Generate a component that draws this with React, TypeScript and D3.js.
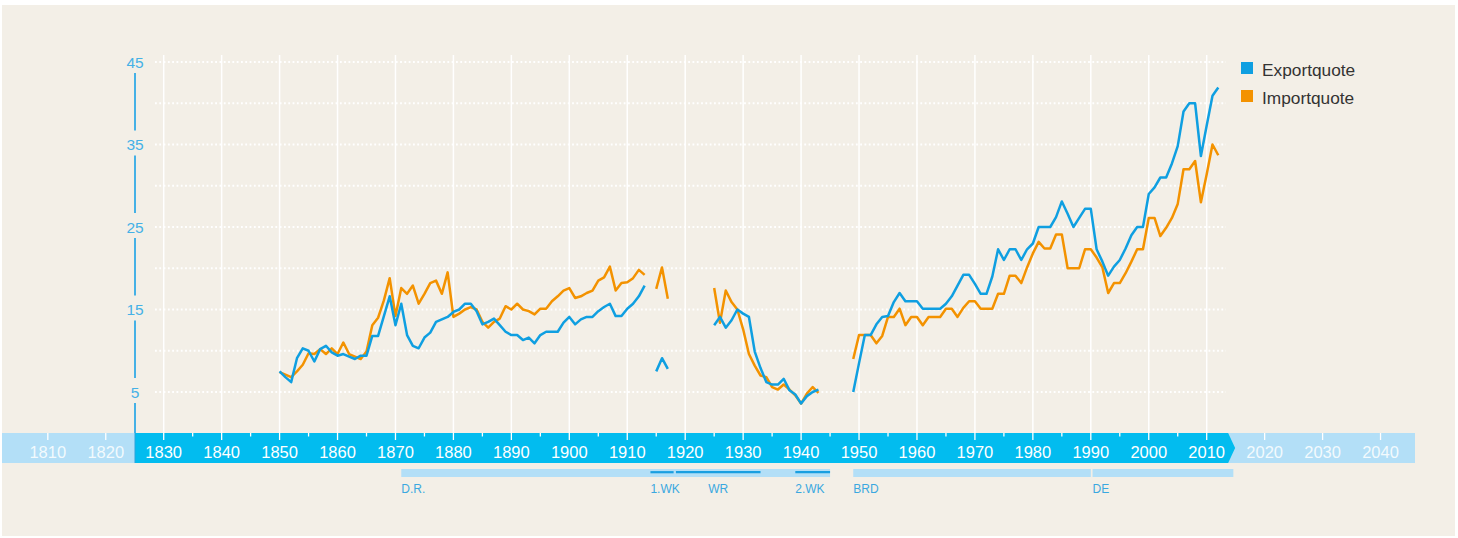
import React from 'react';
import * as d3 from 'd3';

// Exportquote / Importquote Deutschland, in % des BIP
const years = d3.range(1850, 2013);

const exportQuote = [
  7.5, 6.8, 6.2, 9.1, 10.3, 10.0, 8.7, 10.2, 10.6, 9.8, // 1850
  9.4, 9.6, 9.3, 9.0, 9.4, 9.4, 11.8, 11.8, 14.2, 16.6, // 1860
  13.1, 15.7, 11.9, 10.6, 10.3, 11.6, 12.2, 13.5, 13.8, 14.1, // 1870
  14.7, 15.0, 15.7, 15.7, 14.8, 13.2, 13.5, 13.9, 13.1, 12.3, // 1880
  11.9, 11.9, 11.3, 11.6, 10.9, 11.9, 12.3, 12.3, 12.3, 13.4, // 1890
  14.1, 13.2, 13.8, 14.1, 14.1, 14.8, 15.3, 15.7, 14.2, 14.2, // 1900
  15.1, 15.7, 16.6, 17.9, null, 7.5, 9.1, 7.8, null, null, // 1910
  null, null, null, null, null, 13.1, 14.1, 12.8, 13.7, 15.0, // 1920
  14.5, 14.1, 9.9, 7.9, 6.2, 5.9, 5.9, 6.6, 5.2, 4.7, // 1930
  3.6, 4.5, 5.0, 5.3, null, null, null, null, null, 5.0, // 1940
  8.5, 11.9, 11.9, 13.2, 14.1, 14.2, 15.9, 17.0, 16.0, 16.0, // 1950
  16.0, 15.1, 15.1, 15.1, 15.1, 15.7, 16.6, 17.9, 19.2, 19.2, // 1960
  18.1, 16.9, 16.9, 19.0, 22.3, 21.0, 22.3, 22.3, 21.0, 22.3, // 1970
  23.0, 25.0, 25.0, 25.0, 26.2, 28.1, 26.6, 25.0, 26.1, 27.2, // 1980
  27.2, 22.3, 20.8, 19.1, 20.2, 21.0, 22.4, 24.0, 25.0, 25.0, // 1990
  29.0, 29.8, 31.0, 31.0, 32.7, 34.8, 39.0, 40.0, 40.0, 33.6, // 2000
  37.3, 40.9, 41.9, // 2010
];

const importQuote = [
  7.4, 7.1, 6.8, 7.5, 8.3, 9.7, 9.6, 10.2, 9.6, 10.3, // 1850
  9.6, 11.0, 9.6, 9.3, 9.0, 9.9, 13.1, 14.0, 16.1, 18.8, // 1860
  14.2, 17.6, 16.9, 17.9, 15.7, 16.9, 18.2, 18.5, 16.9, 19.5, // 1870
  14.1, 14.5, 15.0, 15.3, 15.0, 13.5, 12.8, 13.5, 13.9, 15.4, // 1880
  15.0, 15.7, 15.0, 14.8, 14.4, 15.1, 15.1, 16.0, 16.6, 17.3, // 1890
  17.6, 16.4, 16.6, 17.0, 17.3, 18.5, 18.9, 20.2, 17.3, 18.2, // 1900
  18.3, 18.8, 19.8, 19.2, null, 17.5, 20.1, 16.3, null, null, // 1910
  null, null, null, null, null, 17.6, 13.4, 17.3, 15.9, 15.0, // 1920
  12.6, 9.6, 8.2, 7.0, 6.8, 5.6, 5.3, 5.9, 5.3, 4.6, // 1930
  3.6, 4.8, 5.6, 4.9, null, null, null, null, null, 9.0, // 1940
  11.9, 11.9, 11.9, 10.9, 11.8, 14.1, 14.1, 15.1, 13.1, 14.1, // 1950
  14.1, 13.1, 14.1, 14.1, 14.1, 15.1, 15.1, 14.1, 15.2, 16.0, // 1960
  16.0, 15.1, 15.1, 15.1, 16.9, 16.9, 19.1, 19.1, 18.2, 20.1, // 1970
  21.8, 23.2, 22.4, 22.4, 24.1, 24.1, 20.0, 20.0, 20.0, 22.3, // 1980
  22.3, 21.3, 20.1, 17.0, 18.2, 18.2, 19.4, 20.8, 22.3, 22.3, // 1990
  26.1, 26.1, 23.9, 24.9, 26.1, 27.8, 32.0, 32.0, 33.0, 28.0, // 2000
  31.4, 35.0, 33.7, // 2010
];

const yTicks = [5, 15, 25, 35, 45];
const yGrid = [5, 10, 15, 20, 25, 30, 35, 40, 45];
const decadeLabels = d3.range(1810, 2041, 10);
const gridYears = d3.range(1830, 2011, 10);
const halfTicks = d3.range(1835, 2006, 10);

// Staatsformen (helle Balken) und Zeitabschnitte (dunkle Linien)
const eras = [
  { label: 'D.R.', start: 1871, end: 1945 },
  { label: 'BRD', start: 1949, end: 1990 },
  { label: 'DE', start: 1990.3, end: 2014.6 },
];
const phases = [
  { label: '1.WK', start: 1914, end: 1918, center: false },
  { label: 'WR', start: 1918.4, end: 1933, center: true },
  { label: '2.WK', start: 1939, end: 1945, center: false },
];

const series = [
  { name: 'Exportquote', values: exportQuote, color: '#0f9fe1' },
  { name: 'Importquote', values: importQuote, color: '#f39200' },
];

const FONT = '"Liberation Sans", Arial, Helvetica, sans-serif';
const AXIS_BLUE = '#45b1e6';
const BAND_DARK = '#02bcef';
const BAND_LIGHT = '#b3dff7';

export default function App() {
  const width = 1458;
  const height = 538;

  const x = d3.scaleLinear().domain([1830, 2010]).range([163.7, 1206.7]);
  const y = d3.scaleLinear().domain([5, 45]).range([392, 62]);

  const bandTop = 433;
  const bandBottom = 463;
  const arrowEnd = x(2013.7);

  const line = d3
    .line<number | null>()
    .defined((d) => d != null)
    .x((_, i) => x(years[i]))
    .y((d) => y(d as number));

  // y-axis line segments between the labels
  const axisSegs = yTicks.map((t, i) => {
    const top = y(t) + 11;
    const bottom = i === 0 ? bandTop : y(yTicks[i - 1]) - 14;
    return [top, bottom];
  });

  return (
    <div style={{ position: 'absolute', left: 0, top: 0 }}>
      <svg width={width} height={height} style={{ display: 'block', fontFamily: FONT }}>
        <rect x={0} y={0} width={width} height={height} fill="#ffffff" />
        <rect x={2} y={5} width={1453} height={531} fill="#f3efe7" />

        {/* dotted horizontal grid */}
        {yGrid.map((v) => (
          <line
            key={'h' + v}
            x1={155}
            x2={1226}
            y1={y(v)}
            y2={y(v)}
            stroke="#ffffff"
            strokeWidth={1.8}
            strokeDasharray="1.8 2.5"
          />
        ))}

        {/* vertical grid */}
        {gridYears.map((yr) => (
          <line key={'v' + yr} x1={x(yr)} x2={x(yr)} y1={55} y2={bandTop} stroke="#ffffff" strokeWidth={1.5} />
        ))}

        {/* y axis */}
        {axisSegs.map(([a, b], i) => (
          <line key={'ys' + i} x1={135} x2={135} y1={a} y2={b} stroke={AXIS_BLUE} strokeWidth={2} />
        ))}
        {yTicks.map((t) => (
          <text key={'yt' + t} x={135} y={y(t) + 5.5} textAnchor="middle" fontSize={15.5} fill={AXIS_BLUE}>
            {t}
          </text>
        ))}

        {/* time band */}
        <rect x={2} y={bandTop} width={1413} height={bandBottom - bandTop} fill={BAND_LIGHT} />
        <path
          d={`M135,${bandTop} L${arrowEnd},${bandTop} L${arrowEnd + 7},${(bandTop + bandBottom) / 2} L${arrowEnd},${bandBottom} L135,${bandBottom} Z`}
          fill={BAND_DARK}
        />
        <line x1={135} x2={135} y1={bandTop} y2={bandBottom} stroke="#2aa3dc" strokeWidth={1} />
        {decadeLabels.map((yr) => (
          <line key={'dt' + yr} x1={x(yr)} x2={x(yr)} y1={bandTop} y2={bandTop + 7} stroke="#ffffff" strokeWidth={1.3} />
        ))}
        {halfTicks.map((yr) => (
          <line key={'ht' + yr} x1={x(yr)} x2={x(yr)} y1={bandTop} y2={bandTop + 3.5} stroke="#ffffff" strokeWidth={1.3} />
        ))}
        {decadeLabels.map((yr) => (
          <text
            key={'dl' + yr}
            x={x(yr)}
            y={458}
            textAnchor="middle"
            fontSize={16.5}
            fill="#ffffff"
            fillOpacity={yr < 1830 || yr > 2010 ? 0.85 : 1}
          >
            {yr}
          </text>
        ))}

        {/* eras */}
        {eras.map((e) => (
          <g key={e.label}>
            <rect x={x(e.start)} y={469} width={x(e.end) - x(e.start)} height={8} fill={BAND_LIGHT} />
            <text x={x(e.start)} y={493} fontSize={12} fill="#3aa8e0">
              {e.label}
            </text>
          </g>
        ))}
        {phases.map((p) => (
          <g key={p.label}>
            <line x1={x(p.start)} x2={x(p.end)} y1={472.2} y2={472.2} stroke="#1a9fe0" strokeWidth={2.2} />
            <text
              x={p.center ? (x(p.start) + x(p.end)) / 2 : x(p.start)}
              y={493}
              fontSize={12}
              fill="#3aa8e0"
              textAnchor={p.center ? 'middle' : 'start'}
            >
              {p.label}
            </text>
          </g>
        ))}

        {/* data lines: import below export */}
        {[series[1], series[0]].map((s) => (
          <path
            key={s.name}
            d={line(s.values) || ''}
            fill="none"
            stroke={s.color}
            strokeWidth={2.5}
            strokeLinejoin="round"
          />
        ))}

        {/* legend */}
        {series.map((s, i) => (
          <g key={'lg' + s.name} transform={`translate(1241, ${62 + i * 28})`}>
            <rect x={0} y={0} width={12} height={12} fill={s.color} />
            <text x={21} y={13.5} fontSize={17.3} fill="#333333">
              {s.name}
            </text>
          </g>
        ))}
      </svg>
    </div>
  );
}
